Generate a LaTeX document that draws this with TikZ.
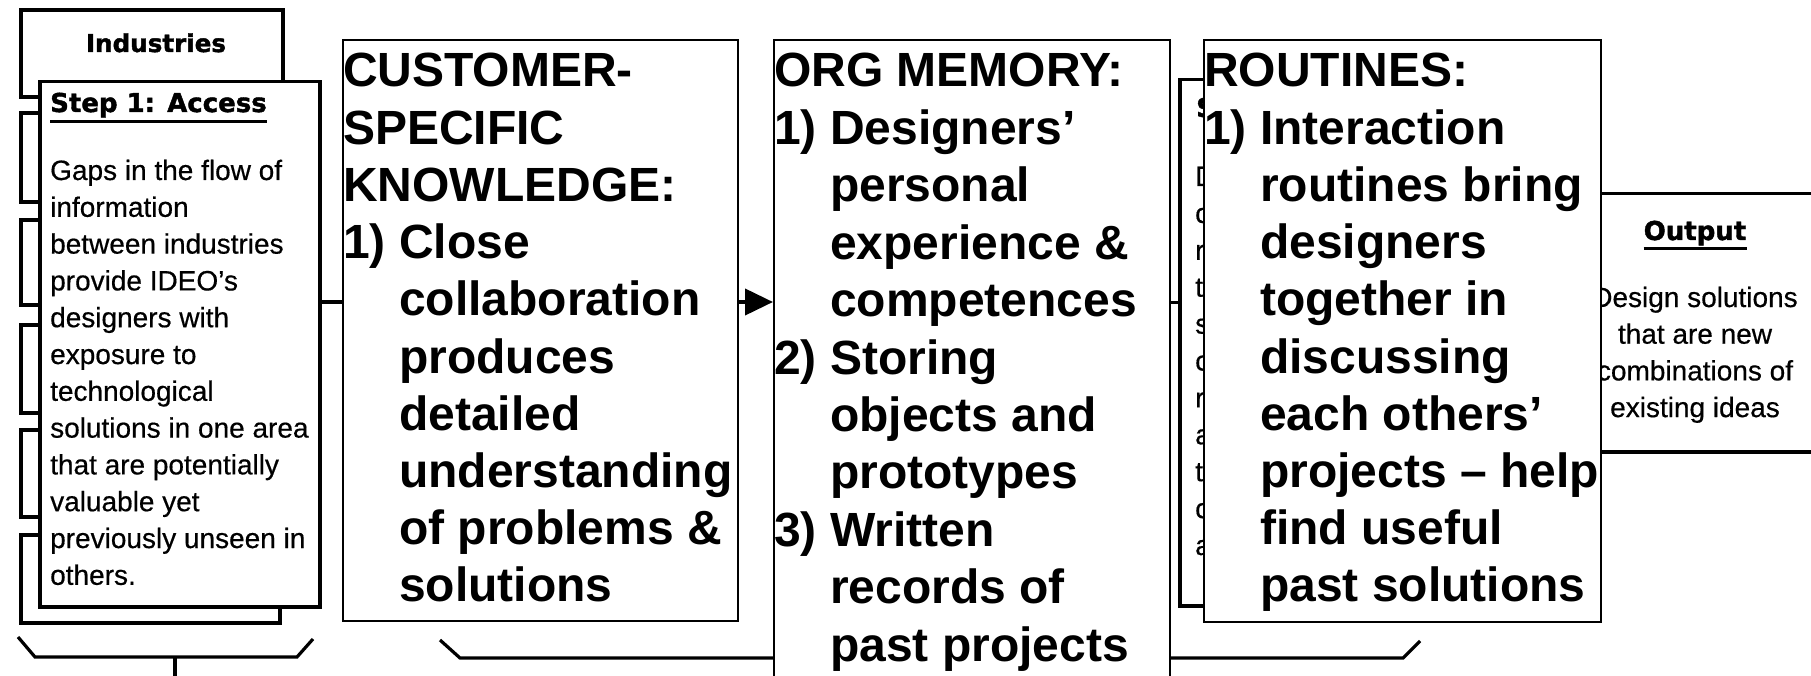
\documentclass[tikz,border=0pt]{standalone}
\usepackage{fontspec}
\setmainfont{Liberation Sans}
\newfontfamily\headfont{DejaVu Sans}[BoldFeatures={FakeBold=1.6}]
\newfontfamily\scanfont{Liberation Sans}[FakeBold=0.5]
\usetikzlibrary{arrows.meta,calc}
\newcommand\ind{\hphantom{1) }}
\begin{document}
\begin{tikzpicture}[x=1pt,y=-1pt,
  scan/.style={line width=3.2pt, line join=miter},
  bigbox/.style={draw, line width=2pt, fill=white, inner sep=0pt, anchor=north west},
  bigtxt/.style={font=\fontsize{48}{57}\selectfont\bfseries, anchor=base west, inner sep=0pt},
  scantxt/.style={font=\scanfont\fontsize{28}{37}\selectfont, anchor=base west, inner sep=0pt},
  scanhd/.style={font=\headfont\bfseries\fontsize{26}{30}\selectfont, inner sep=0pt},
]
\useasboundingbox (0,0) rectangle (1811,676);
\clip (0,0) rectangle (1811,676);

% ---------- scanned left part: industries ----------
\node[scanhd, font=\headfont\bfseries\fontsize{24.6}{30}\selectfont, anchor=base] (indtitle) at (156,52) {Industries};
\draw[scan] (38,97) -- (21,97) -- (21,10) -- (283,10) -- (283,82);
\foreach \t/\b in {113/202,220/305,325/413,430/517}
  \draw[scan] (38,\t) -- (21,\t) -- (21,\b) -- (38,\b);
\draw[scan] (38,535) -- (21,535) -- (21,623) -- (280,623) -- (280,603);

\node[draw, line width=3.5pt, fill=white, inner sep=0pt, minimum width=280pt, minimum height=525pt, anchor=north west] (step1) at (38,80) {};
\node[scanhd, anchor=base west] (s1t) at (50,112) {Step 1: Access};
\draw[line width=3pt] ($(s1t.base west)+(0,10)$) -- ($(s1t.base east)+(0,10)$);
\foreach \t [count=\i from 0] in {Gaps in the flow of, information, between industries, provide IDEO’s, designers with, exposure to, technological, solutions in one area, that are potentially, valuable yet, previously unseen in, others.}
  \node[scantxt] (s1l\i) at (50,180+36.8*\i) {\t};

% brace 1
\draw[scan] (18,637) -- (35,657) -- (297,657) -- (313,639);
\coordinate (b1mid) at (175,657);
\coordinate (b1end) at (175,680);
\draw[scan] (b1mid) -- (b1end);

% brace 2
\draw[scan] (440,640) -- (460,658) -- (1403,658) -- (1420,641);

% scanned step box behind ROUTINES
\node[draw, line width=3.5pt, inner sep=0pt, minimum width=300pt, minimum height=526pt, anchor=north west] (step4) at (1178,78) {};
\node[scanhd, anchor=base west] (s4t) at (1196,117) {S};
\foreach \t [count=\i from 0] in {D,c,r,t,s,c,r,a,t,c,a}
  \node[scantxt] (s4l\i) at (1195,186+36.9*\i) {\t};

% scanned output box
\node[draw, line width=3.5pt, inner sep=0pt, minimum width=300pt, minimum height=258pt, anchor=north west] (out) at (1560,192) {};
\node[scanhd, anchor=base] (outt) at (1695,240) {Output};
\draw[line width=3pt] ($(outt.base west)+(0,9)$) -- ($(outt.base east)+(0,9)$);
\foreach \t [count=\i from 0] in {Design solutions, that are new, combinations of, existing ideas}
  \node[scantxt, anchor=base] (outl\i) at (1695,307+36.7*\i) {\t};

% ---------- overlay boxes ----------
\node[bigbox, minimum width=395pt, minimum height=581pt] (cust) at (342,39) {};
\node[bigbox, minimum width=396pt, minimum height=680pt] (org) at (773,39) {};
\node[bigbox, minimum width=397pt, minimum height=582pt] (rout) at (1203,39) {};

\foreach \t [count=\i from 0] in {CUSTOMER-, SPECIFIC, KNOWLEDGE:, 1) Close, \ind collaboration, \ind produces, \ind detailed, \ind understanding, \ind of problems \&, \ind solutions}
  \node[bigtxt] (cl\i) at (343,87+57.2*\i) {\t};
\foreach \t [count=\i from 0] in {ORG MEMORY:, 1) Designers’, \ind personal, \ind experience \&, \ind competences, 2) Storing, \ind objects and, \ind prototypes, 3) Written, \ind records of, \ind past projects}
  \node[bigtxt] (ol\i) at (774,87+57.4*\i) {\t};
\foreach \t [count=\i from 0] in {ROUTINES:, 1) Interaction, \ind routines bring, \ind designers, \ind together in, \ind discussing, \ind each others’, \ind projects – help, \ind find useful, \ind past solutions}
  \node[bigtxt] (rl\i) at (1204,87+57.2*\i) {\t};

% ---------- connectors ----------
\coordinate (flowy) at (0,302);
\draw[line width=3.5pt] (step1.east |- flowy) -- (cust.west |- flowy);
\draw[line width=4pt, -{Triangle[length=28pt,width=26pt]}] (cust.east |- flowy) -- (org.west |- flowy);
\draw[line width=3pt] (org.east |- flowy) -- (step4.west |- flowy);
\end{tikzpicture}
\end{document}
